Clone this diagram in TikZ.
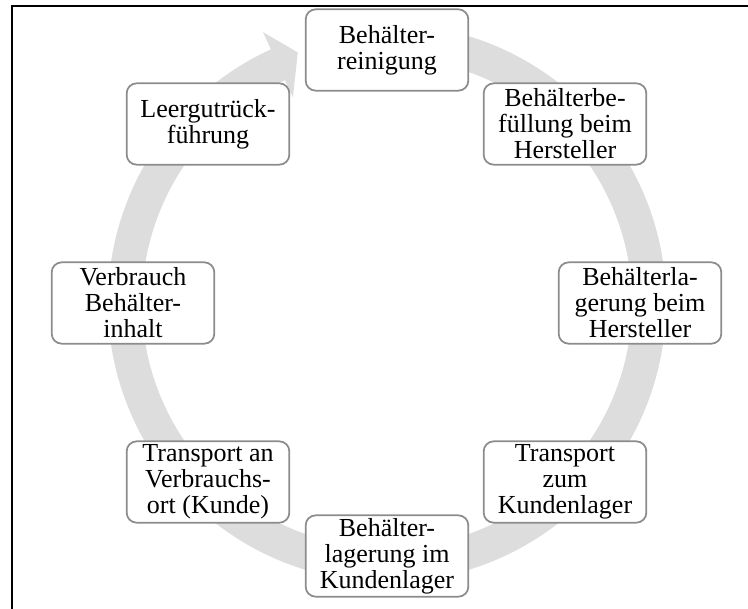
\documentclass[tikz,border=0pt]{standalone}
\usepackage{fontspec}
\setmainfont{Liberation Serif}
\definecolor{bandgray}{RGB}{221,221,221}
\definecolor{boxgray}{RGB}{140,140,140}
\tikzset{
  cyclebox/.style={draw=boxgray, line width=1.3pt, fill=white, rounded corners=7.5pt,
    minimum width=122pt, minimum height=61pt, inner sep=0pt, align=center,
    font=\fontsize{19.5}{19.5}\selectfont}
}
\begin{document}
\begin{tikzpicture}[x=0.75pt,y=0.75pt,yscale=-1,xscale=1]
\useasboundingbox (0,0) rectangle (748,609);

%Frame
\draw [line width=1.5pt] (748,6) -- (12,6) -- (12,609) ;

%Shape: Circular Arrow
\begin{scope}[shift={(387,303)}]
\fill [bandgray] (-80:279) arc [start angle=-80, end angle=245.4, radius=279] -- (245.4:298) -- (250.4:266) -- (245.4:226) -- (245.4:245) arc [start angle=245.4, end angle=-80, radius=245] -- cycle ;
\end{scope}

% Text Nodes
\node [cyclebox] (reinigung) at (387,50) {Behälter-\\reinigung};
\node [cyclebox] (befuellung) at (565,124) {Behälterbe-\\füllung beim\\Hersteller};
\node [cyclebox] (lagerherst) at (640,303) {Behälterla-\\gerung beim\\Hersteller};
\node [cyclebox] (transkunde) at (565,482) {Transport\\zum\\Kundenlager};
\node [cyclebox] (lagerkunde) at (387,556) {Behälter-\\lagerung im\\Kundenlager};
\node [cyclebox] (transort) at (208,482) {Transport an\\Verbrauchs-\\ort (Kunde)};
\node [cyclebox] (verbrauch) at (133,303) {Verbrauch\\Behälter-\\inhalt};
\node [cyclebox] (leergut) at (208,124) {Leergutrück-\\führung};

\end{tikzpicture}
\end{document}
